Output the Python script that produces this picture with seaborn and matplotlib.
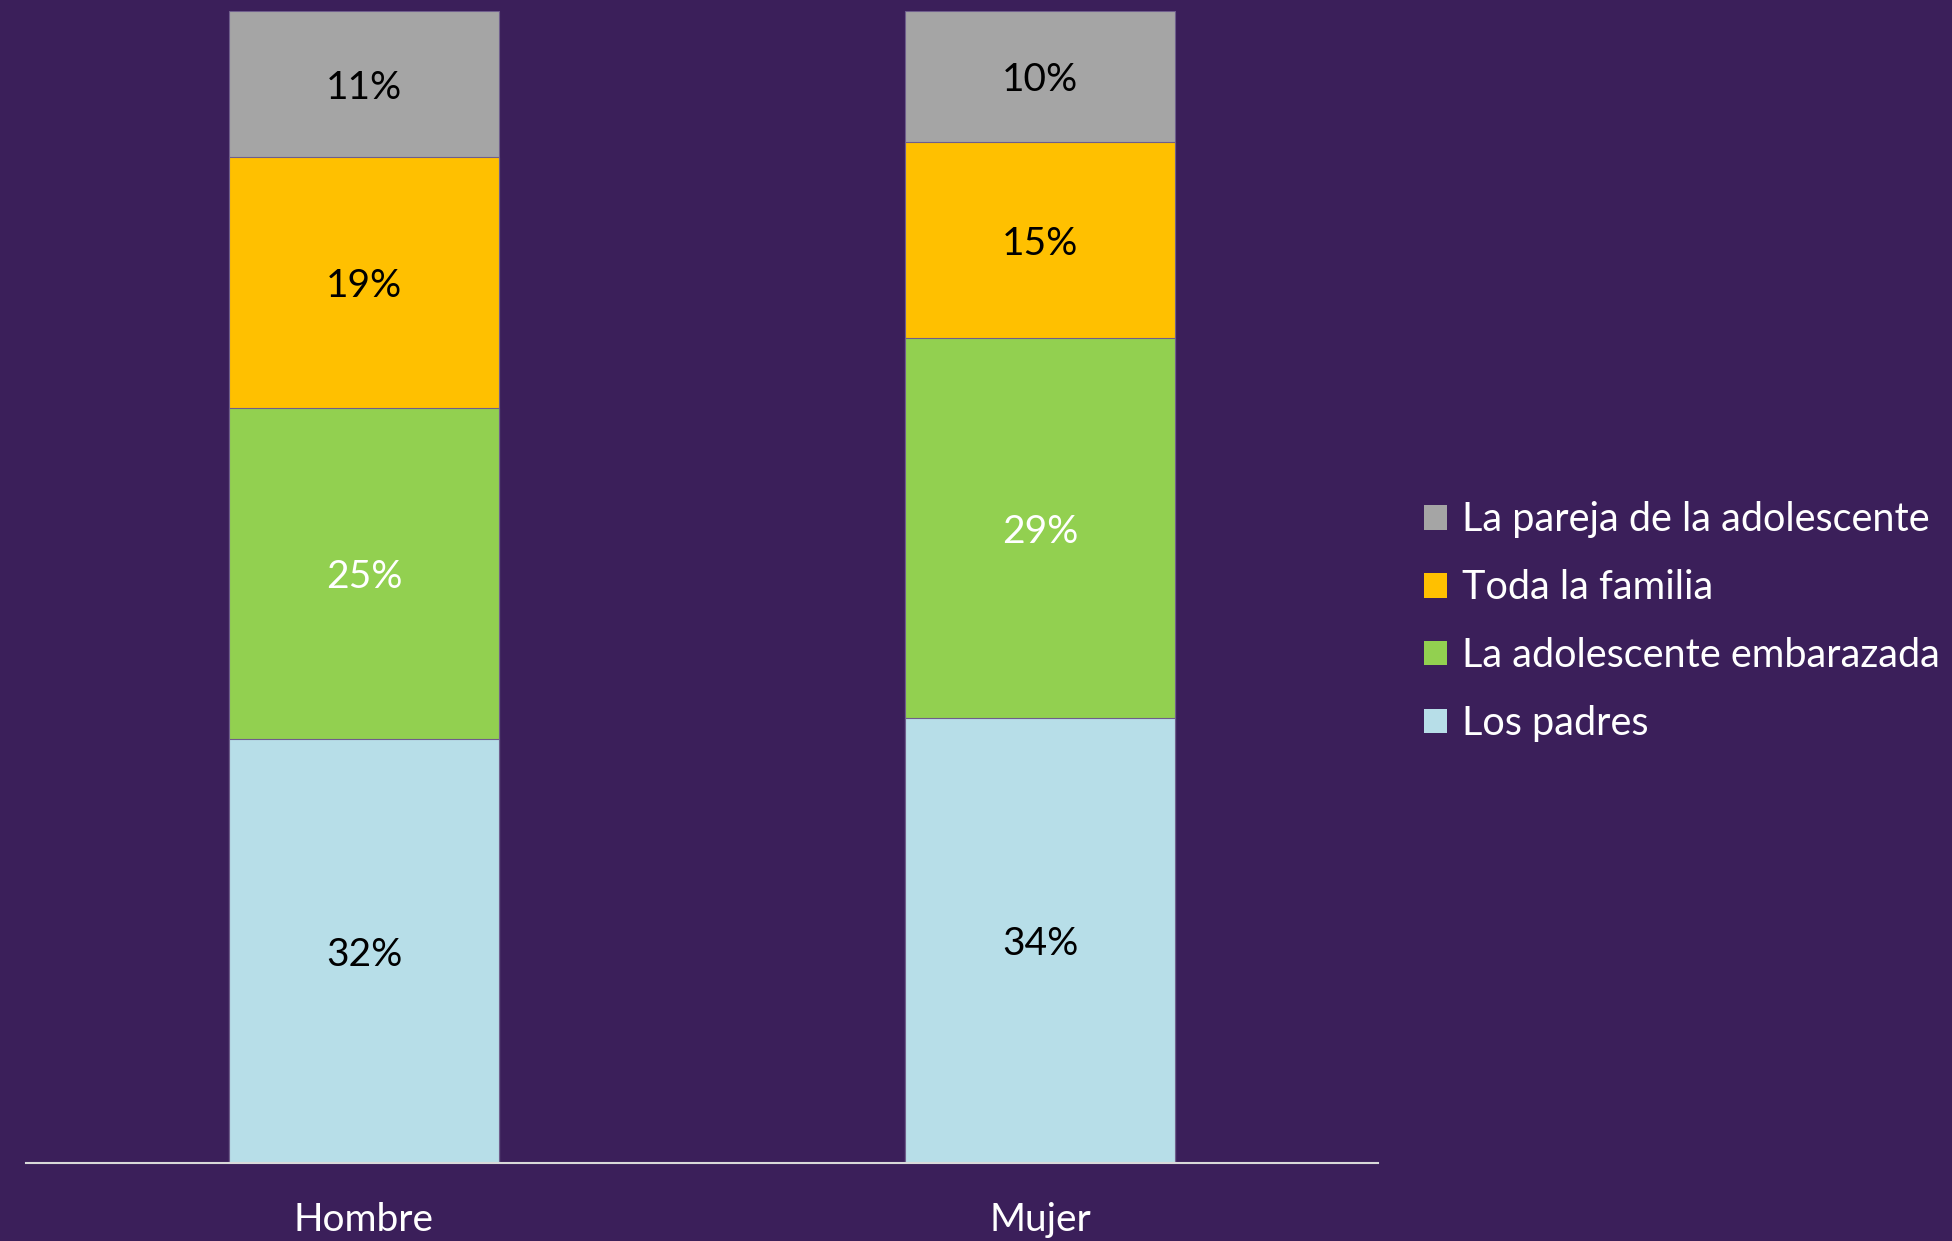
import numpy as np
import pandas as pd
import matplotlib
matplotlib.use('Agg')
import matplotlib.pyplot as plt
from matplotlib.patches import Patch
import seaborn as sns

# ── Datos ──
categorias = ['Hombre', 'Mujer']
series = ['Los padres', 'La adolescente embarazada', 'Toda la familia',
          'La pareja de la adolescente']
los_padres = [32, 34]
adolescente = [25, 29]
familia = [19, 15]
pareja = [11, 10]

colores = ['#B7DEE8', '#92D050', '#FFC000', '#A5A5A5']
color_texto = ['black', 'white', 'black', 'black']
fondo = '#3B1F5A'

valores = np.array([los_padres, adolescente, familia, pareja], dtype=float)
pct = valores / valores.sum(axis=0) * 100   # barras al 100 %
acum = np.cumsum(pct, axis=0)

sns.set_theme(style='white')
plt.rcParams['font.family'] = ['Lato', 'DejaVu Sans']

fig = plt.figure(figsize=(19.52, 12.41), dpi=100, facecolor=fondo)
ax = fig.add_axes([0.0133, 0.0629, 0.6927, 0.928])
ax.set_facecolor(fondo)

# barras apiladas: se dibujan los acumulados de arriba hacia abajo
for i in reversed(range(len(series))):
    df = pd.DataFrame({'cat': categorias, 'val': acum[i]})
    sns.barplot(data=df, x='cat', y='val', color=colores[i], width=0.40,
                edgecolor='#6F5E8C', linewidth=0.8, saturation=1, ax=ax)

# etiquetas de datos
for i in range(len(series)):
    for j in range(len(categorias)):
        centro = acum[i, j] - pct[i, j] / 2 - 0.3
        ax.text(j, centro, f'{int(valores[i, j])}%', ha='center', va='center',
                fontsize=28, color=color_texto[i])

ax.set_xlim(-0.5, 1.5)
ax.set_ylim(0, 100)
ax.set_yticks([])
ax.set_xlabel('')
ax.set_ylabel('')
for s in ['top', 'right', 'left']:
    ax.spines[s].set_visible(False)
ax.spines['bottom'].set_color('#D9D9D9')
ax.spines['bottom'].set_linewidth(1.5)
ax.tick_params(axis='x', length=0, pad=28, labelsize=28, labelcolor='white')

handles = [Patch(facecolor=colores[i], edgecolor='none', label=series[i])
           for i in reversed(range(len(series)))]
fig.legend(handles=handles, loc='center left', bbox_to_anchor=(0.7295, 0.499),
           frameon=False, fontsize=28.5, labelcolor='white',
           borderpad=0, borderaxespad=0,
           handlelength=0.57, handleheight=0.57, handletextpad=0.38,
           labelspacing=0.78)

plt.savefig('out.png', dpi=100, facecolor=fondo)
